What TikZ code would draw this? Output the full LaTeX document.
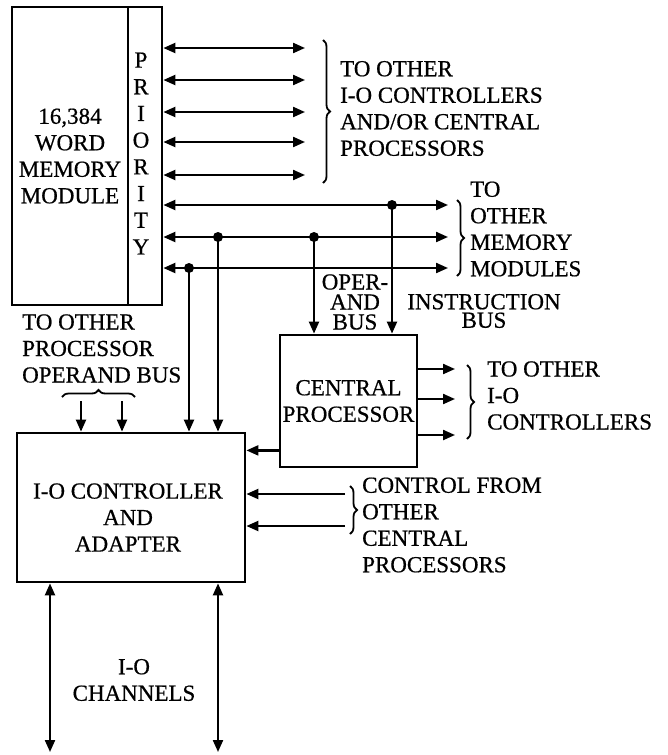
\documentclass[tikz,border=0pt]{standalone}
\usepackage{fontspec}
\setmainfont{Liberation Serif}[FakeBold=0.6]
\usetikzlibrary{arrows.meta,decorations.pathreplacing}

\begin{document}
\begin{tikzpicture}[x=1pt,y=-1pt,
    box/.style={draw,line width=2.8pt,inner sep=0pt},
    txt/.style={font=\fontsize{23}{26.5}\selectfont,inner sep=0pt},
    bus/.style={line width=2.2pt},
    arr/.style={bus,-{Triangle[length=12pt,width=10pt]}},
    dbl/.style={bus,{Triangle[length=12pt,width=10pt]}-{Triangle[length=12pt,width=10pt]}},
    brc/.style={line width=1.8pt,decorate,decoration={brace,amplitude=7pt}}]
  \useasboundingbox (0,0) rectangle (667,755);
  \node[box,minimum width=116pt,minimum height=298pt,txt,align=center] (mem) at (70,156) {16,384\\WORD\\MEMORY\\MODULE};
  \node[box,minimum width=34pt,minimum height=298pt] (pri) at (145,156) {};
  \node[txt,align=center,font=\fontsize{23}{26.7}\selectfont] (prilbl) at (141,153.5) {P\\R\\I\\O\\R\\I\\T\\Y};
  \node[box,minimum width=137pt,minimum height=132pt,txt,align=center] (cpu) at (348.5,401) {CENTRAL\\PROCESSOR};
  \node[box,minimum width=228pt,minimum height=149pt] (ioc) at (131,507.5) {};
  \node[txt,align=center] (ioclbl) at (128,517.5) {I-O CONTROLLER\\AND\\ADAPTER};

  \foreach \y [count=\i] in {48,80,112,142,175}{
    \coordinate (o\i) at (305,\y);
    \draw[dbl] (pri.east |- o\i) -- (o\i);
  }
  \draw[brc] (323,40) -- (323,183);
  \node[txt,align=left,anchor=west] (toio) at (340,108.5) {TO OTHER\\I-O CONTROLLERS\\AND/OR CENTRAL\\PROCESSORS};

  \foreach \y [count=\i] in {205,237,268}{
    \coordinate (m\i) at (448,\y);
    \draw[dbl] (pri.east |- m\i) -- (m\i);
  }
  \draw[brc] (457,200) -- (457,276);
  \node[txt,align=left,anchor=west] (tomem) at (470,229) {TO\\OTHER\\MEMORY\\MODULES};

  \coordinate (dA) at (392,205);
  \coordinate (dB) at (314,237);
  \coordinate (dC) at (218,237);
  \coordinate (dD) at (189,268);
  \foreach \d in {dA,dB,dC,dD} \fill (\d) circle (5);
  \draw[arr] (dA) -- (dA |- cpu.north);
  \draw[arr] (dB) -- (dB |- cpu.north);
  \draw[arr] (dC) -- (dC |- ioc.north);
  \draw[arr] (dD) -- (dD |- ioc.north);
  \node[txt,align=center,font=\fontsize{23}{20}\selectfont] (oplbl) at (355,302) {OPER-\\AND\\BUS};
  \node[txt,align=center,font=\fontsize{23}{18.5}\selectfont] (inlbl) at (484,311) {INSTRUCTION\\BUS};

  \foreach \y [count=\i] in {369,399,435}{
    \coordinate (c\i) at (455,\y);
    \draw[arr] (cpu.east |- c\i) -- (c\i);
  }
  \draw[brc] (467,365) -- (467,439);
  \node[txt,align=left,anchor=west] (tocpu) at (487,395.5) {TO OTHER\\I-O\\CONTROLLERS};

  \coordinate (cx) at ([yshift=18pt]cpu.south west);
  \draw[arr] (cx) -- (cx -| ioc.east);

  \foreach \y [count=\i] in {494,526}{
    \coordinate (k\i) at (345,\y);
    \draw[arr] (k\i) -- (k\i -| ioc.east);
  }
  \draw[brc] (350,486) -- (350,534);
  \node[txt,align=left,anchor=west] (ctl) at (362,525) {CONTROL FROM\\OTHER\\CENTRAL\\PROCESSORS};

  \node[txt,align=left,anchor=west] (toproc) at (22,348.5) {TO OTHER\\PROCESSOR\\OPERAND BUS};
  \draw[brc] (62,397) -- (135,397);
  \foreach \x [count=\i] in {81,122}{
    \coordinate (p\i) at (\x,401);
    \draw[arr] (p\i) -- (p\i |- ioc.north);
  }

  \foreach \x [count=\i] in {50,218}{
    \coordinate (ch\i) at (\x,752);
    \draw[dbl] (ch\i |- ioc.south) -- (ch\i);
  }
  \node[txt,align=center] (chlbl) at (134,680) {I-O\\CHANNELS};
\end{tikzpicture}
\end{document}
